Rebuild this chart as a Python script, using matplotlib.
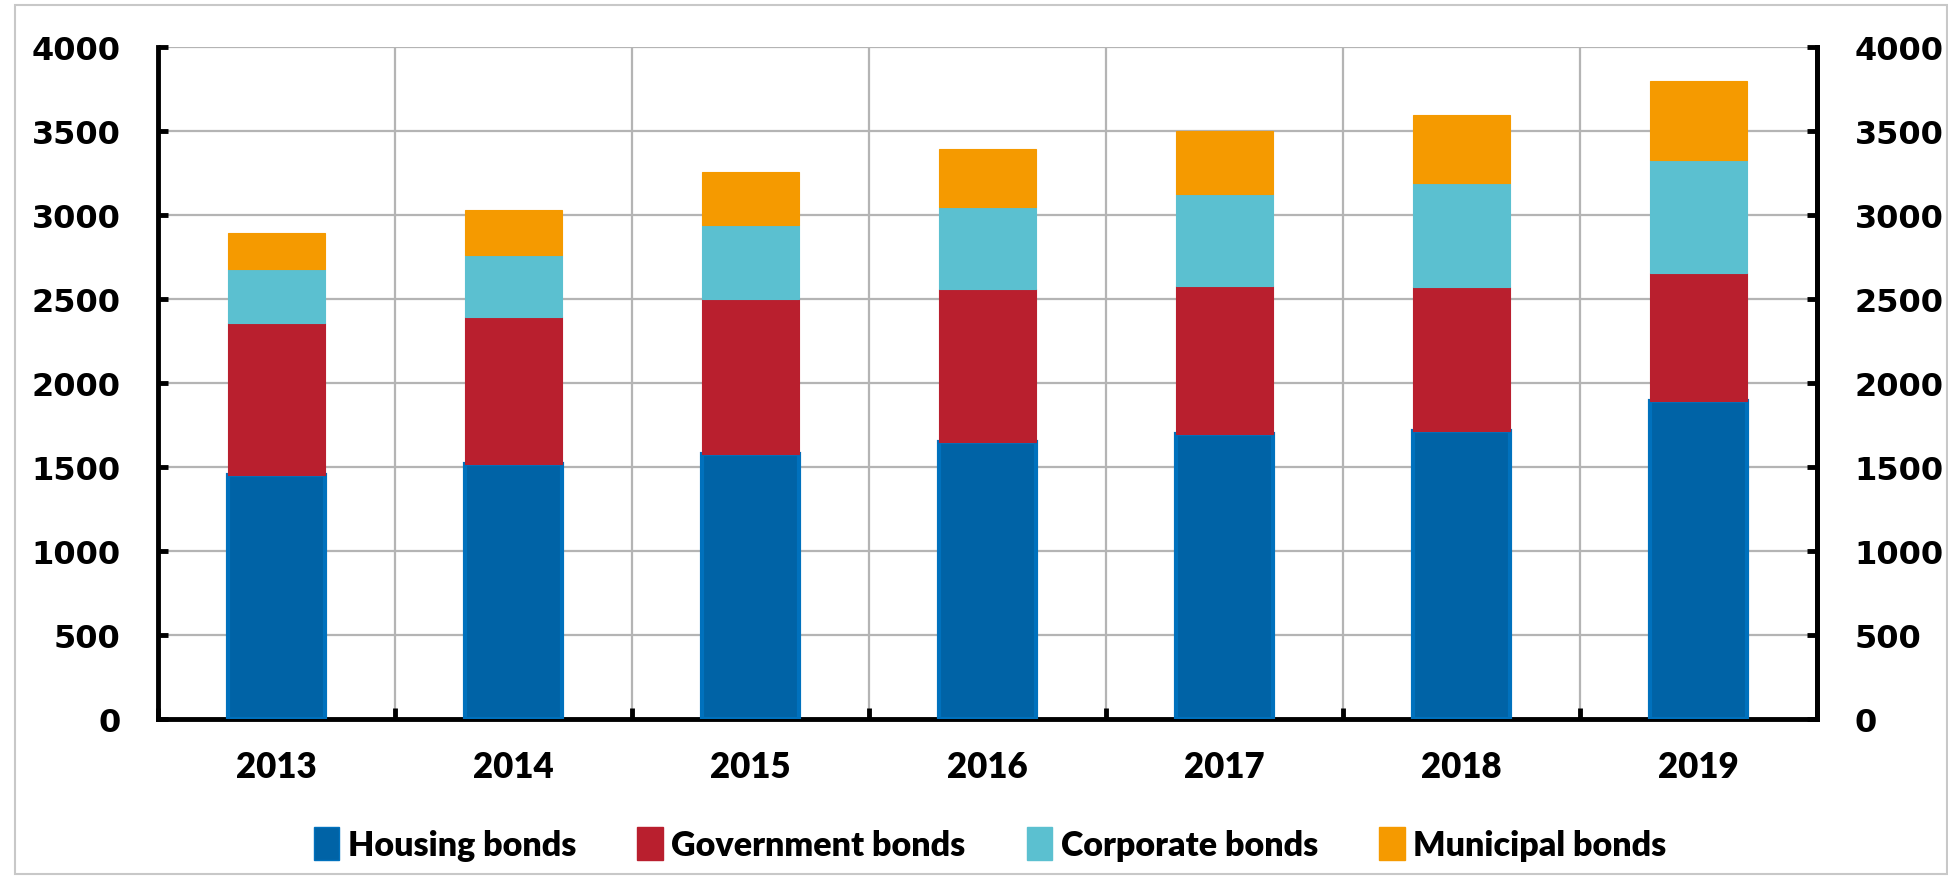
import matplotlib
matplotlib.use("Agg")
import matplotlib.pyplot as plt
import numpy as np
from matplotlib.patches import Rectangle, Patch

years = ["2013", "2014", "2015", "2016", "2017", "2018", "2019"]
housing = [1455, 1515, 1575, 1650, 1695, 1715, 1895]
government = [900, 880, 925, 910, 885, 855, 760]
corporate = [325, 365, 440, 490, 545, 620, 675]
municipal = [210, 270, 315, 345, 375, 407, 466]
series_names = ["Housing bonds", "Government bonds", "Corporate bonds", "Municipal bonds"]
y_ticks = [0, 500, 1000, 1500, 2000, 2500, 3000, 3500, 4000]

fill_colors = ["#0063A6", "#B91F2E", "#5BC0D0", "#F59A00"]
edge_colors = ["#0071BD", "#B91F2E", "#5BC0D0", "#F59A00"]

fig = plt.figure(figsize=(19.49, 8.87), dpi=100)
fig.patches.append(Rectangle((15 / 1949, 12 / 887), 1 - 17 / 1949, 1 - 18 / 887,
                             transform=fig.transFigure, fill=False,
                             edgecolor="#C8C8C8", linewidth=1.5, zorder=0))
ax = fig.add_axes([158 / 1949, 1 - 720 / 887, (1817 - 158) / 1949, (720 - 48) / 887])

x = np.arange(len(years))
data = [housing, government, corporate, municipal]
bottom = np.zeros(len(years))
for vals, name, fc, ec in zip(data, series_names, fill_colors, edge_colors):
    lw = 3 if name == "Housing bonds" else 0.8
    ax.bar(x, vals, width=0.41, bottom=bottom, color=fc, edgecolor=ec,
           linewidth=lw, label=name, zorder=3)
    bottom += np.array(vals)

ax.set_xlim(-0.5, len(years) - 0.5)
ax.set_ylim(0, 4000)
ax.set_yticks(y_ticks)
ax.set_xticks(x)
ax.set_xticklabels(years)
ax.set_xticks(np.arange(len(years) + 1) - 0.5, minor=True)

ax.grid(True, axis="y", which="major", color="#B4B4B4", linewidth=1.6, zorder=0)
ax.grid(True, axis="x", which="minor", color="#B4B4B4", linewidth=1.6, zorder=0)
ax.grid(False, axis="x", which="major")
ax.set_axisbelow(True)

for s in ["left", "bottom", "right"]:
    ax.spines[s].set_linewidth(3.5)
    ax.spines[s].set_color("black")
ax.spines["top"].set_visible(False)

ylab_size = 23
ax.tick_params(axis="y", direction="in", length=7, width=3.5, pad=27,
               labelsize=ylab_size)
ax.tick_params(axis="x", which="major", length=0, pad=22, labelsize=25)
ax.tick_params(axis="x", which="minor", direction="in", length=8, width=3.5)

for lab in ax.get_yticklabels():
    lab.set_fontfamily("DejaVu Sans")
    lab.set_fontweight("bold")
for lab in ax.get_xticklabels():
    lab.set_fontfamily("Lato")
    lab.set_fontweight("heavy")

ax2 = ax.twinx()
ax2.set_ylim(ax.get_ylim())
ax2.set_yticks(y_ticks)
for s in ["left", "bottom", "top"]:
    ax2.spines[s].set_visible(False)
ax2.spines["right"].set_linewidth(3.5)
ax2.tick_params(axis="y", direction="in", length=7, width=3.5, pad=27,
                labelsize=ylab_size)
for lab in ax2.get_yticklabels():
    lab.set_fontfamily("DejaVu Sans")
    lab.set_fontweight("bold")

handles = [Patch(facecolor=fc, edgecolor=ec) for fc, ec in zip(fill_colors, edge_colors)]
leg = fig.legend(handles, series_names, loc="center", bbox_to_anchor=(990 / 1949, 1 - 845 / 887),
                 ncol=4, frameon=False, handlelength=0.75, handleheight=1.1,
                 handletextpad=0.25, columnspacing=1.8,
                 prop={"family": "Lato", "weight": "heavy", "size": 24.5})

fig.savefig("out.png", dpi=100)
